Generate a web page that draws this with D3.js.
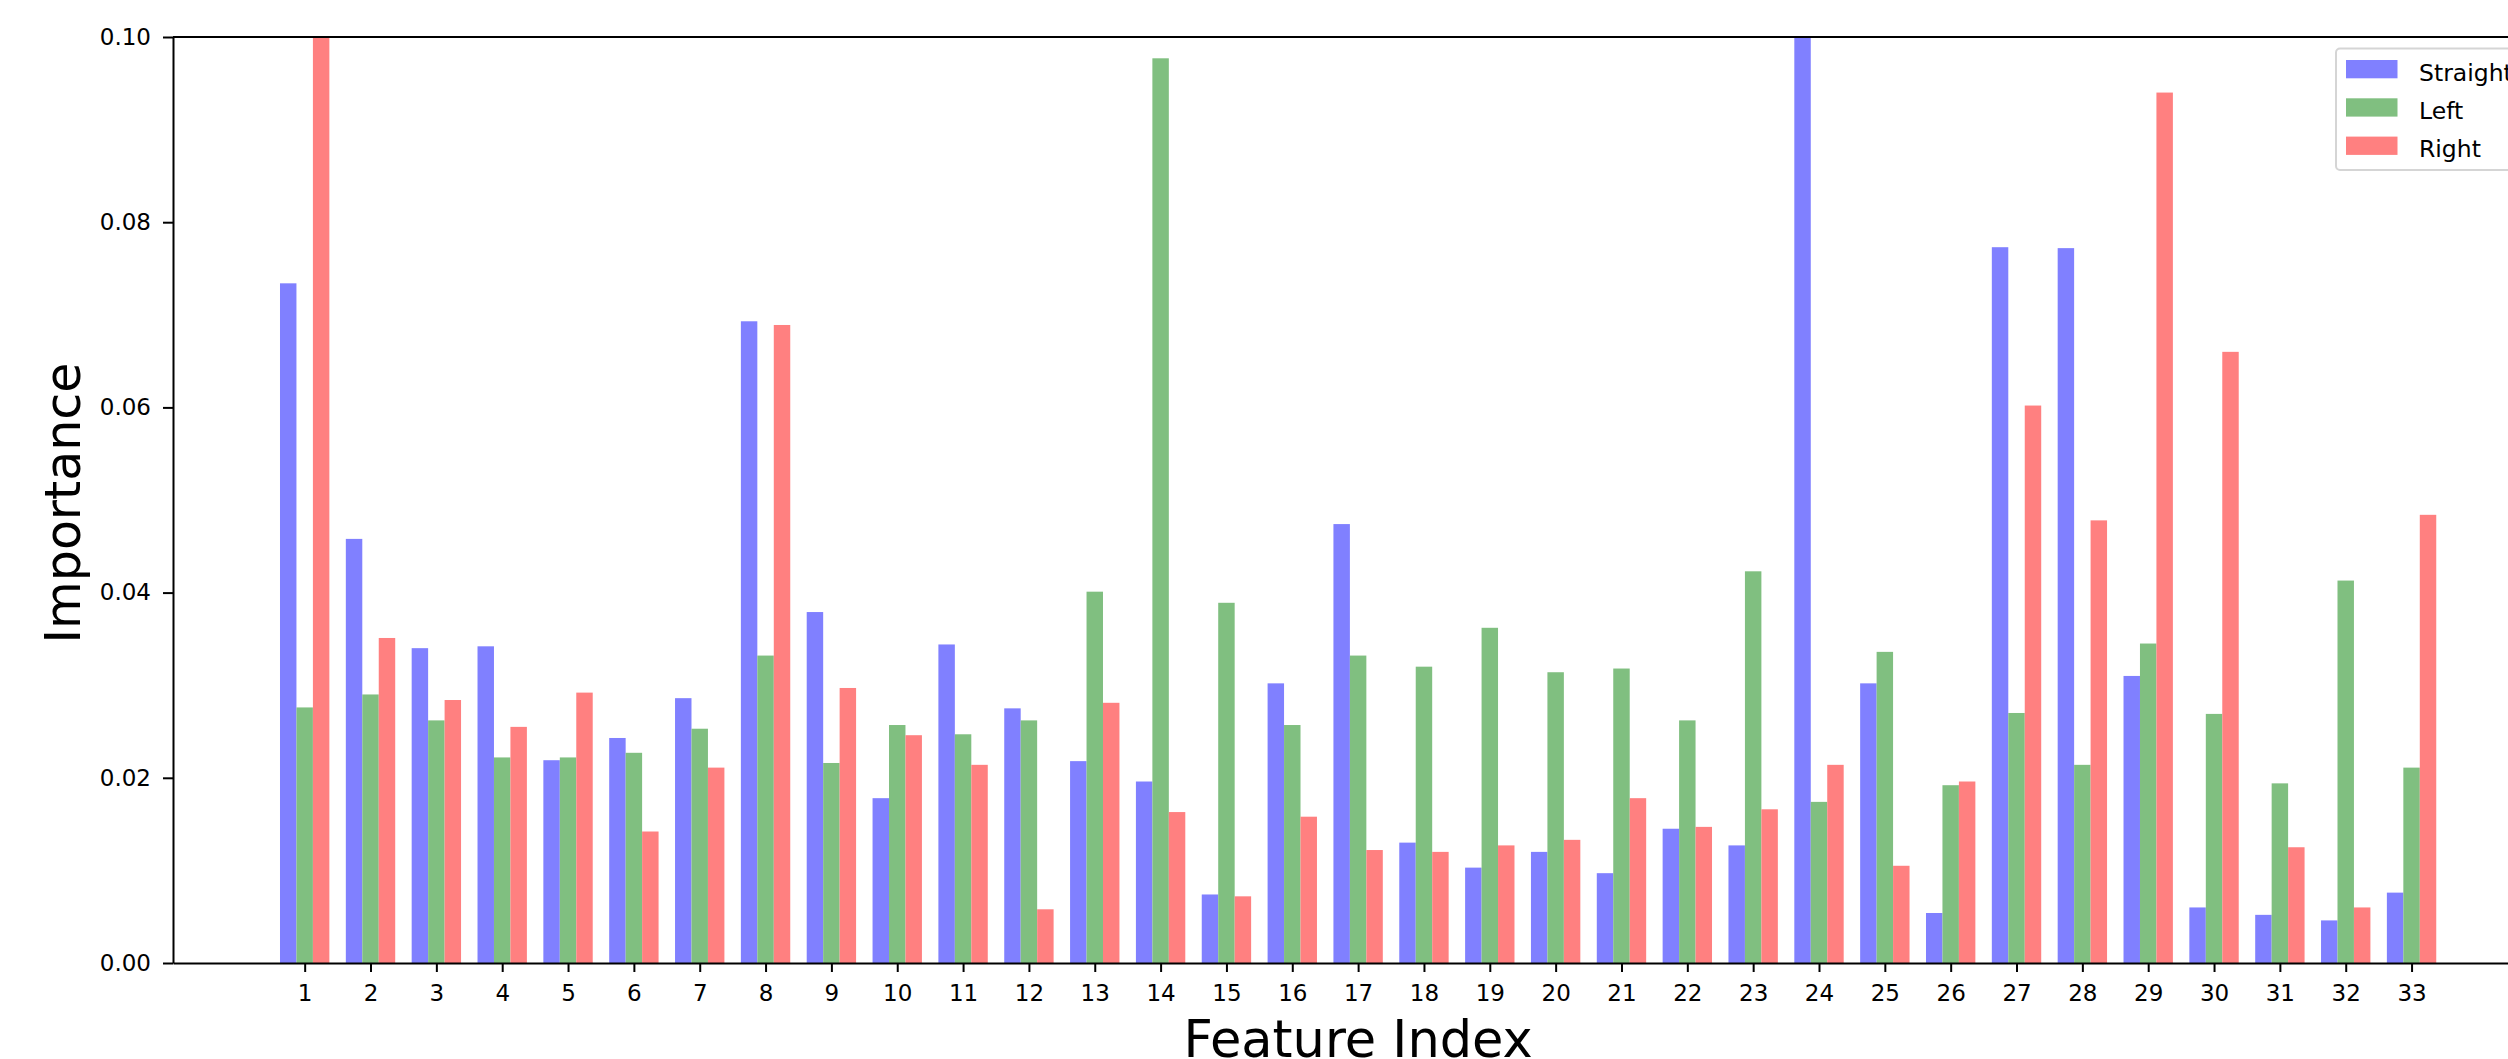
<!DOCTYPE html>
<html>
<head>
<meta charset="utf-8">
<script src="https://cdn.jsdelivr.net/npm/d3@7"></script>
<style>
  html, body { margin: 0; padding: 0; background: #fff; overflow: hidden; }
  svg { display: block; font-family: "DejaVu Sans", sans-serif; }
</style>
</head>
<body>
<svg id="chart" width="2508" height="1059"></svg>
<script>
const features = d3.range(1, 34);
const seriesNames = ["Straight", "Left", "Right"];
const seriesColors = ["#8080ff", "#80bf80", "#ff8080"];
const straight = [0.0734, 0.0458, 0.0340, 0.0342, 0.0219, 0.0243, 0.0286, 0.0693, 0.0379, 0.0178,
                  0.0344, 0.0275, 0.0218, 0.0196, 0.0074, 0.0302, 0.0474, 0.0130, 0.0103, 0.0120,
                  0.0097, 0.0145, 0.0127, 0.1000, 0.0302, 0.0054, 0.0773, 0.0772, 0.0310, 0.0060,
                  0.0052, 0.0046, 0.0076];
const left = [0.0276, 0.0290, 0.0262, 0.0222, 0.0222, 0.0227, 0.0253, 0.0332, 0.0216, 0.0257,
              0.0247, 0.0262, 0.0401, 0.0977, 0.0389, 0.0257, 0.0332, 0.0320, 0.0362, 0.0314,
              0.0318, 0.0262, 0.0423, 0.0174, 0.0336, 0.0192, 0.0270, 0.0214, 0.0345, 0.0269,
              0.0194, 0.0413, 0.0211];
const right = [0.1000, 0.0351, 0.0284, 0.0255, 0.0292, 0.0142, 0.0211, 0.0689, 0.0297, 0.0246,
               0.0214, 0.0058, 0.0281, 0.0163, 0.0072, 0.0158, 0.0122, 0.0120, 0.0127, 0.0133,
               0.0178, 0.0147, 0.0166, 0.0214, 0.0105, 0.0196, 0.0602, 0.0478, 0.0940, 0.0660,
               0.0125, 0.0060, 0.0484];
const yTicks = [0, 0.02, 0.04, 0.06, 0.08, 0.10];
const xLabel = "Feature Index";
const yLabel = "Importance";

const series = [straight, left, right];
const offsets = [-0.25, 0, 0.25];
const barW = 0.25;

const svg = d3.select("#chart");
const x = d3.scaleLinear().domain([-1, 35]).range([173, 173 + 36 * 65.84]);
const y = d3.scaleLinear().domain([0, 0.1]).range([963, 37]);

svg.append("defs").append("clipPath").attr("id", "plotclip")
  .append("rect").attr("x", x(-1)).attr("y", y(0.1)).attr("width", x(35) - x(-1)).attr("height", y(0) - y(0.1));

const gBars = svg.append("g").attr("clip-path", "url(#plotclip)");
series.forEach((vals, s) => {
  gBars.selectAll(null).data(vals).enter().append("rect")
    .attr("x", (d, i) => x(features[i] + offsets[s] - barW / 2))
    .attr("width", (d, i) => x(features[i] + offsets[s] + barW / 2) - x(features[i] + offsets[s] - barW / 2))
    .attr("y", d => y(d))
    .attr("height", d => y(0) - y(d))
    .attr("fill", seriesColors[s]);
});

// axes
const yAxis = svg.append("g").attr("transform", `translate(${x(-1)},0)`)
  .call(d3.axisLeft(y).tickValues(yTicks).tickFormat(d3.format(".2f")).tickSize(10).tickPadding(12).tickSizeOuter(0));
const xAxis = svg.append("g").attr("transform", `translate(0,${y(0)})`)
  .call(d3.axisBottom(x).tickValues(features).tickFormat(d => String(d)).tickSize(9).tickPadding(13).tickSizeOuter(0));
[xAxis, yAxis].forEach(g => {
  g.select(".domain").attr("stroke", "#000").attr("stroke-width", 2);
  g.selectAll(".tick line").attr("stroke", "#000").attr("stroke-width", 2);
  g.selectAll(".tick text").attr("fill", "#000").style("font-size", "23px").style("font-family", "DejaVu Sans");
});
// top spine
svg.append("line").attr("x1", x(-1)).attr("x2", x(35)).attr("y1", y(0.1)).attr("y2", y(0.1))
  .attr("stroke", "#000").attr("stroke-width", 2);
// right spine (off-canvas)
svg.append("line").attr("x1", x(35)).attr("x2", x(35)).attr("y1", y(0.1)).attr("y2", y(0))
  .attr("stroke", "#000").attr("stroke-width", 2);

// labels
svg.append("text").attr("x", (x(-1) + x(35)) / 2).attr("y", 1057)
  .attr("text-anchor", "middle").style("font-size", "51px").attr("fill", "#000").text(xLabel);
svg.append("text").attr("transform", `translate(80,503) rotate(-90)`)
  .attr("text-anchor", "middle").style("font-size", "49px").attr("fill", "#000").text(yLabel);

// legend
const lg = svg.append("g");
lg.append("rect").attr("x", 2336).attr("y", 48.5).attr("width", 260).attr("height", 121.5)
  .attr("rx", 4).attr("fill", "#fff").attr("fill-opacity", 0.8).attr("stroke", "#d5d5d5").attr("stroke-width", 2);
seriesNames.forEach((name, i) => {
  lg.append("rect").attr("x", 2346).attr("y", 60 + i * 38.3).attr("width", 51.5).attr("height", 18.3)
    .attr("fill", seriesColors[i]);
  lg.append("text").attr("x", 2419).attr("y", 80.7 + i * 38.3).style("font-size", "23.5px").attr("fill", "#000").text(name);
});
</script>
</body>
</html>
